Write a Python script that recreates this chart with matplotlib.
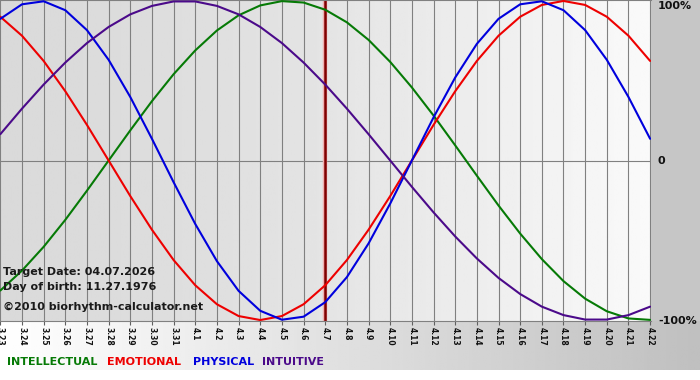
import matplotlib
matplotlib.use('Agg')
import matplotlib.pyplot as plt
from matplotlib.patches import Rectangle
import numpy as np

# ---------------- data ----------------
dates = ['3.23', '3.24', '3.25', '3.26', '3.27', '3.28', '3.29', '3.30', '3.31',
         '4.1', '4.2', '4.3', '4.4', '4.5', '4.6', '4.7', '4.8', '4.9', '4.10',
         '4.11', '4.12', '4.13', '4.14', '4.15', '4.16', '4.17', '4.18', '4.19',
         '4.20', '4.21', '4.22']
target_label = '4.7'

physical = [0.888, 0.979, 0.998, 0.942, 0.817, 0.631, 0.398, 0.136, -0.136, -0.398,
            -0.631, -0.817, -0.942, -0.998, -0.979, -0.888, -0.731, -0.520, -0.270, 0.0,
            0.270, 0.520, 0.731, 0.888, 0.979, 0.998, 0.942, 0.817, 0.631, 0.398, 0.136]
emotional = [0.901, 0.782, 0.624, 0.434, 0.223, 0.0, -0.223, -0.434, -0.624, -0.782,
             -0.901, -0.975, -1.0, -0.975, -0.901, -0.782, -0.624, -0.434, -0.223, 0.0,
             0.223, 0.434, 0.624, 0.782, 0.901, 0.975, 1.0, 0.975, 0.901, 0.782, 0.624]
intellectual = [-0.815, -0.690, -0.541, -0.372, -0.189, 0.0, 0.189, 0.372, 0.541, 0.690,
                0.815, 0.910, 0.972, 0.999, 0.990, 0.945, 0.866, 0.756, 0.618, 0.458,
                0.282, 0.095, -0.095, -0.282, -0.458, -0.618, -0.756, -0.866, -0.945,
                -0.990, -0.999]
intuitive = [0.165, 0.325, 0.476, 0.614, 0.736, 0.837, 0.916, 0.969, 0.997, 0.997,
             0.969, 0.916, 0.837, 0.736, 0.614, 0.476, 0.325, 0.165, 0.0, -0.165,
             -0.325, -0.476, -0.614, -0.736, -0.837, -0.916, -0.969, -0.997, -0.997,
             -0.969, -0.916]

y_ticks = [1, 0, -1]
y_labels = ['100%', '0', '-100%']

series = [('INTELLECTUAL', intellectual, '#067a06'),
          ('EMOTIONAL', emotional, '#ee0000'),
          ('PHYSICAL', physical, '#0000dd'),
          ('INTUITIVE', intuitive, '#4b0a8a')]

info_lines = ['Target Date: 04.07.2026', 'Day of birth: 11.27.1976',
              '\u00a92010 biorhythm-calculator.net']

# ---------------- figure ----------------
W, H = 700, 380
fig = plt.figure(figsize=(W / 100, H / 100), dpi=100)
fig.patch.set_facecolor('white')

bg = fig.add_axes([0, 0, 1, 1], zorder=-10)
bg.set_xlim(0, W)
bg.set_ylim(H, 0)
bg.axis('off')
g = np.linspace(1.0, 0.75, 256)[None, :]
bg.imshow(g, cmap='gray', vmin=0, vmax=1, extent=(0, W, 370, 321), aspect='auto')
bg.add_patch(Rectangle((651, 0), 49, 321, color='#c6c6c6', lw=0))

ax = fig.add_axes([0, 59 / H, 651 / W, 321 / H])
x = np.arange(len(dates))
ax.set_xlim(-0.015, 30.04)
ax.set_ylim(-1.006, 1.006)

# plot background gradient (darker left -> white right)
t = np.linspace(0, 1, 256)
pg = (0.855 + 0.125 * t ** 1.6)[None, :]
ax.imshow(pg, cmap='gray', vmin=0, vmax=1, extent=(-0.015, 30.04, -1.006, 1.006),
          aspect='auto', zorder=0)

for xi in x:
    ax.axvline(xi, color='#808080', lw=0.8, zorder=1)
ax.axhline(0, color='#808080', lw=0.8, zorder=1)

ti = dates.index(target_label)
ax.axvline(x[ti], color='#f0b0b0', lw=3.2, zorder=2)
ax.axvline(x[ti], color='#800000', lw=1.8, zorder=2)

for name, vals, col in series:
    ax.plot(x, vals, color=col, lw=1.5, zorder=3, solid_capstyle='round')

ax.set_xticks(x)
ax.set_xticklabels(dates, rotation=270, fontsize=5.5, fontweight='bold',
                   color='#111111', ha='center', va='top')
ax.tick_params(axis='x', length=3, width=0.8, color='#606060', pad=1)

ax.yaxis.tick_right()
ax.set_yticks(y_ticks)
ax.set_yticklabels(y_labels, fontsize=8, fontweight='bold', color='#111111')
ax.tick_params(axis='y', length=0, pad=5)
ax.get_yticklabels()[0].set_va('top')

for s in ['left', 'right']:
    ax.spines[s].set_visible(False)
for s in ['top', 'bottom']:
    ax.spines[s].set_color('#808080')
    ax.spines[s].set_linewidth(0.8)

def fx(px):
    return px / W

def fy(py):
    return 1 - py / H

for line, py in zip(info_lines, [272, 287, 307]):
    fig.text(fx(3), fy(py), line, fontsize=8, fontweight='bold', color='#1a1a1a',
             ha='left', va='center', zorder=5)

for (name, vals, col), px in zip(series, [7, 107, 193, 262]):
    fig.text(fx(px), fy(362), name, fontsize=8, fontweight='bold', color=col,
             ha='left', va='center')

fig.savefig('out.png', dpi=100)
